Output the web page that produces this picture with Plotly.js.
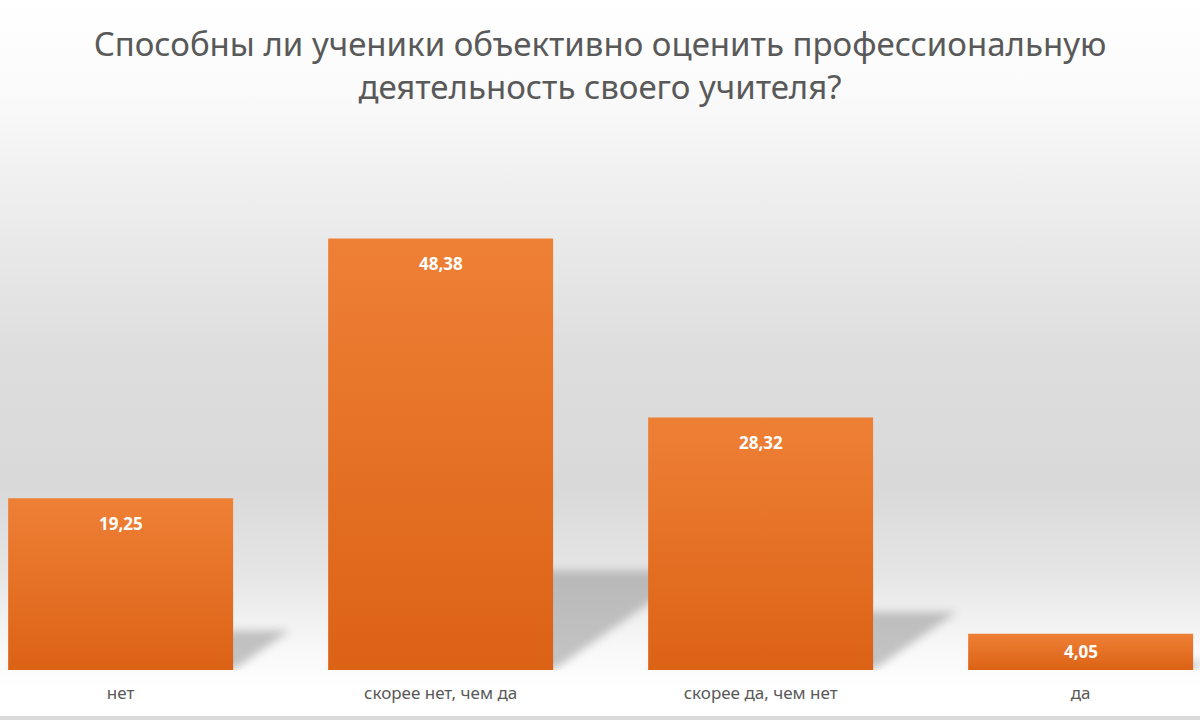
<!DOCTYPE html>
<html>
<head>
<meta charset="utf-8">
<script src="https://cdn.plot.ly/plotly-3.0.1.min.js"></script>
<style>
  html, body { margin: 0; padding: 0; }
  #chart {
    width: 1200px; height: 720px;
    background: linear-gradient(to bottom, #ffffff 0%, #fbfbfb 12%, #ececec 30%, #dddddd 50%, #d9d9d9 68%, #e6e6e6 80%, #f8f8f8 90%, #ffffff 96%, #ffffff 99.4%, #d9d9d9 99.5%, #d9d9d9 100%);
  }
</style>
</head>
<body>
<div id="chart"></div>
<script>
const titleText = "Способны ли ученики объективно оценить профессиональную<br>деятельность своего учителя?";
const categories = ["нет", "скорее нет, чем да", "скорее да, чем нет", "да"];
const values = [19.25, 48.38, 28.32, 4.05];
const labels = values.map(v => v.toFixed(2).replace('.', ','));

const barWidth = 0.703;
const pxPerUnit = 446.5 / 50;   // y pixels per value unit
const pxPerCat = 320;           // x pixels per category step

const trace = {
  type: 'bar',
  x: categories,
  y: values,
  width: barWidth,
  marker: { color: '#E46C22', line: { width: 0 } },
  hoverinfo: 'none'
};

const annotations = values.map((v, i) => ({
  x: categories[i], y: v, xref: 'x', yref: 'y',
  text: '<b>' + labels[i] + '</b>',
  showarrow: false,
  yanchor: 'middle',
  yshift: -Math.min(25, v * pxPerUnit / 2),
  font: { family: 'Open Sans, Noto Sans, sans-serif', size: 17, color: '#ffffff' }
}));

// perspective drop shadows derived from each bar's value
const shapes = values.map((v, i) => {
  const xl = i - barWidth / 2, xr = i + barWidth / 2;
  const dx = 0.33 * v * pxPerUnit / pxPerCat;
  const dy = 0.23 * v;
  return {
    type: 'path', xref: 'x', yref: 'y', layer: 'below',
    path: `M ${xl} 0 L ${xr} 0 L ${xr + dx} ${dy} L ${xl + dx} ${dy} Z`,
    fillcolor: 'rgba(140,140,140,0.5)',
    line: { width: 0 }
  };
});

const layout = {
  width: 1200, height: 720,
  paper_bgcolor: 'rgba(0,0,0,0)',
  plot_bgcolor: 'rgba(0,0,0,0)',
  margin: { l: 0, r: 0, t: 223.5, b: 50 },
  title: {
    text: titleText,
    x: 0.5, xanchor: 'center',
    yref: 'container',
    y: 1 - 56 / 720, yanchor: 'middle',
    font: { family: 'Noto Sans, Open Sans, sans-serif', size: 33, color: '#595959' }
  },
  xaxis: {
    type: 'category',
    range: [-0.377, 3.373],
    showgrid: false, zeroline: false, showline: false,
    ticks: '',
    tickfont: { family: 'Noto Sans, Open Sans, sans-serif', size: 17, color: '#595959' },
    ticklabelstandoff: 11
  },
  yaxis: {
    range: [0, 50],
    visible: false,
    showgrid: false, zeroline: false
  },
  shapes: shapes,
  annotations: annotations,
  showlegend: false
};

Plotly.newPlot('chart', [trace], layout, { staticPlot: true }).then(() => {
  const svg = document.querySelector('#chart .main-svg');
  const ns = 'http://www.w3.org/2000/svg';
  let defs = svg.querySelector('defs');
  if (!defs) { defs = document.createElementNS(ns, 'defs'); svg.insertBefore(defs, svg.firstChild); }
  const g = document.createElementNS(ns, 'linearGradient');
  g.setAttribute('id', 'barGrad');
  g.setAttribute('x1', '0'); g.setAttribute('y1', '0');
  g.setAttribute('x2', '0'); g.setAttribute('y2', '1');
  [['0%', '#EE8036'], ['100%', '#DC6215']].forEach(([o, c]) => {
    const s = document.createElementNS(ns, 'stop');
    s.setAttribute('offset', o); s.setAttribute('stop-color', c);
    g.appendChild(s);
  });
  defs.appendChild(g);
  const f = document.createElementNS(ns, 'filter');
  f.setAttribute('id', 'shadowBlur');
  f.setAttribute('x', '-20%'); f.setAttribute('y', '-20%');
  f.setAttribute('width', '140%'); f.setAttribute('height', '140%');
  const blur = document.createElementNS(ns, 'feGaussianBlur');
  blur.setAttribute('stdDeviation', '4');
  f.appendChild(blur);
  defs.appendChild(f);
  document.querySelectorAll('#chart .bars .point path').forEach(p => {
    p.style.fill = 'url(#barGrad)';
  });
  document.querySelectorAll('#chart .shapelayer path').forEach(p => {
    p.setAttribute('filter', 'url(#shadowBlur)');
    p.style.filter = 'blur(4px)';
  });
});
</script>
</body>
</html>
